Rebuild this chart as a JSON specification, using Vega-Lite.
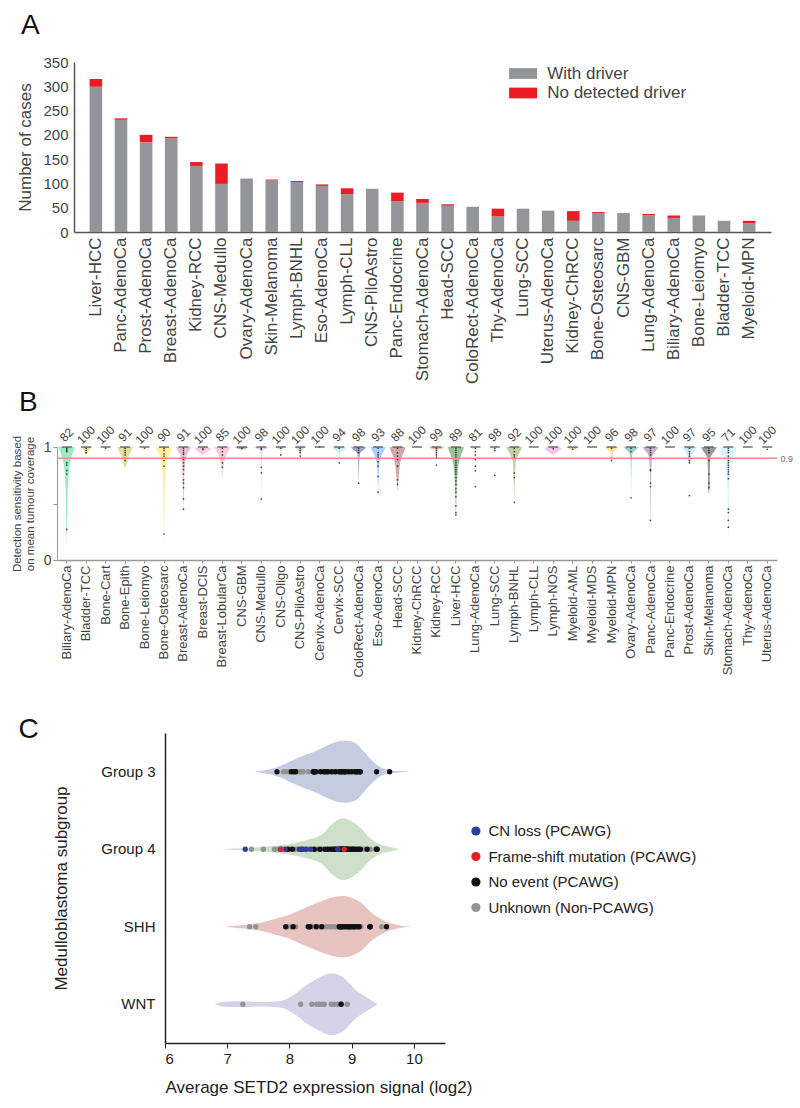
{
"$schema": "https://vega.github.io/schema/vega-lite/v6.json",
"padding": {"left": 11, "top": 11, "right": 5, "bottom": 5},
"config": {"view": {"stroke": null}, "font": "Liberation Sans", "axis": {"grid": false, "titleFontWeight": "normal", "labelFont": "Liberation Sans", "titleFont": "Liberation Sans"}, "legend": {"labelFont": "Liberation Sans", "labelLimit": 400}, "title": {"font": "Liberation Sans"}},
"datasets": {
"a": [
{"t":"Liver-HCC","s":"With driver","n":299},{"t":"Liver-HCC","s":"No detected driver","n":16},
{"t":"Panc-AdenoCa","s":"With driver","n":231},{"t":"Panc-AdenoCa","s":"No detected driver","n":3},
{"t":"Prost-AdenoCa","s":"With driver","n":185},{"t":"Prost-AdenoCa","s":"No detected driver","n":15},
{"t":"Breast-AdenoCa","s":"With driver","n":193},{"t":"Breast-AdenoCa","s":"No detected driver","n":3},
{"t":"Kidney-RCC","s":"With driver","n":136},{"t":"Kidney-RCC","s":"No detected driver","n":8},
{"t":"CNS-Medullo","s":"With driver","n":99},{"t":"CNS-Medullo","s":"No detected driver","n":42},
{"t":"Ovary-AdenoCa","s":"With driver","n":110},{"t":"Ovary-AdenoCa","s":"No detected driver","n":0},
{"t":"Skin-Melanoma","s":"With driver","n":106},{"t":"Skin-Melanoma","s":"No detected driver","n":2},
{"t":"Lymph-BNHL","s":"With driver","n":103},{"t":"Lymph-BNHL","s":"No detected driver","n":2},
{"t":"Eso-AdenoCa","s":"With driver","n":95},{"t":"Eso-AdenoCa","s":"No detected driver","n":3},
{"t":"Lymph-CLL","s":"With driver","n":78},{"t":"Lymph-CLL","s":"No detected driver","n":12},
{"t":"CNS-PiloAstro","s":"With driver","n":89},{"t":"CNS-PiloAstro","s":"No detected driver","n":0},
{"t":"Panc-Endocrine","s":"With driver","n":63},{"t":"Panc-Endocrine","s":"No detected driver","n":18},
{"t":"Stomach-AdenoCa","s":"With driver","n":60},{"t":"Stomach-AdenoCa","s":"No detected driver","n":8},
{"t":"Head-SCC","s":"With driver","n":54},{"t":"Head-SCC","s":"No detected driver","n":3},
{"t":"ColoRect-AdenoCa","s":"With driver","n":52},{"t":"ColoRect-AdenoCa","s":"No detected driver","n":0},
{"t":"Thy-AdenoCa","s":"With driver","n":32},{"t":"Thy-AdenoCa","s":"No detected driver","n":16},
{"t":"Lung-SCC","s":"With driver","n":48},{"t":"Lung-SCC","s":"No detected driver","n":0},
{"t":"Uterus-AdenoCa","s":"With driver","n":44},{"t":"Uterus-AdenoCa","s":"No detected driver","n":0},
{"t":"Kidney-ChRCC","s":"With driver","n":23},{"t":"Kidney-ChRCC","s":"No detected driver","n":20},
{"t":"Bone-Osteosarc","s":"With driver","n":38},{"t":"Bone-Osteosarc","s":"No detected driver","n":3},
{"t":"CNS-GBM","s":"With driver","n":39},{"t":"CNS-GBM","s":"No detected driver","n":0},
{"t":"Lung-AdenoCa","s":"With driver","n":35},{"t":"Lung-AdenoCa","s":"No detected driver","n":2},
{"t":"Biliary-AdenoCa","s":"With driver","n":29},{"t":"Biliary-AdenoCa","s":"No detected driver","n":5},
{"t":"Bone-Leiomyo","s":"With driver","n":34},{"t":"Bone-Leiomyo","s":"No detected driver","n":0},
{"t":"Bladder-TCC","s":"With driver","n":23},{"t":"Bladder-TCC","s":"No detected driver","n":0},
{"t":"Myeloid-MPN","s":"With driver","n":18},{"t":"Myeloid-MPN","s":"No detected driver","n":5}
],
"cats": [
{"c":"Biliary-AdenoCa","i":0,"p":82},{"c":"Bladder-TCC","i":1,"p":100},{"c":"Bone-Cart","i":2,"p":100},{"c":"Bone-Epith","i":3,"p":91},{"c":"Bone-Leiomyo","i":4,"p":100},{"c":"Bone-Osteosarc","i":5,"p":90},{"c":"Breast-AdenoCa","i":6,"p":91},{"c":"Breast-DCIS","i":7,"p":100},{"c":"Breast-LobularCa","i":8,"p":85},{"c":"CNS-GBM","i":9,"p":100},{"c":"CNS-Medullo","i":10,"p":98},{"c":"CNS-Oligo","i":11,"p":100},{"c":"CNS-PiloAstro","i":12,"p":100},{"c":"Cervix-AdenoCa","i":13,"p":100},{"c":"Cervix-SCC","i":14,"p":94},{"c":"ColoRect-AdenoCa","i":15,"p":98},{"c":"Eso-AdenoCa","i":16,"p":93},{"c":"Head-SCC","i":17,"p":88},{"c":"Kidney-ChRCC","i":18,"p":100},{"c":"Kidney-RCC","i":19,"p":99},{"c":"Liver-HCC","i":20,"p":89},{"c":"Lung-AdenoCa","i":21,"p":81},{"c":"Lung-SCC","i":22,"p":98},{"c":"Lymph-BNHL","i":23,"p":92},{"c":"Lymph-CLL","i":24,"p":100},{"c":"Lymph-NOS","i":25,"p":100},{"c":"Myeloid-AML","i":26,"p":100},{"c":"Myeloid-MDS","i":27,"p":100},{"c":"Myeloid-MPN","i":28,"p":96},{"c":"Ovary-AdenoCa","i":29,"p":98},{"c":"Panc-AdenoCa","i":30,"p":97},{"c":"Panc-Endocrine","i":31,"p":100},{"c":"Prost-AdenoCa","i":32,"p":97},{"c":"Skin-Melanoma","i":33,"p":95},{"c":"Stomach-AdenoCa","i":34,"p":71},{"c":"Thy-AdenoCa","i":35,"p":100},{"c":"Uterus-AdenoCa","i":36,"p":100}
],
"thr": [{"t": 0.9}],
"bs": [
{"c":"Biliary-AdenoCa","v":1,"w":8},{"c":"Biliary-AdenoCa","v":0.98,"w":7.5},{"c":"Biliary-AdenoCa","v":0.95,"w":6},{"c":"Biliary-AdenoCa","v":0.9,"w":4.3},{"c":"Biliary-AdenoCa","v":0.85,"w":3},{"c":"Biliary-AdenoCa","v":0.77,"w":2},{"c":"Biliary-AdenoCa","v":0.6,"w":1},{"c":"Biliary-AdenoCa","v":0.4,"w":0.6},{"c":"Biliary-AdenoCa","v":0.12,"w":0},
{"c":"Bladder-TCC","v":1,"w":5.5},{"c":"Bladder-TCC","v":0.97,"w":3},{"c":"Bladder-TCC","v":0.93,"w":0.5},{"c":"Bladder-TCC","v":0.92,"w":0},
{"c":"Bone-Epith","v":1,"w":7.8},{"c":"Bone-Epith","v":0.97,"w":6.5},{"c":"Bone-Epith","v":0.94,"w":4.5},{"c":"Bone-Epith","v":0.9,"w":3},{"c":"Bone-Epith","v":0.86,"w":1.8},{"c":"Bone-Epith","v":0.82,"w":0.5},{"c":"Bone-Epith","v":0.81,"w":0},
{"c":"Bone-Osteosarc","v":1,"w":7.8},{"c":"Bone-Osteosarc","v":0.97,"w":7},{"c":"Bone-Osteosarc","v":0.94,"w":5.5},{"c":"Bone-Osteosarc","v":0.9,"w":3.8},{"c":"Bone-Osteosarc","v":0.85,"w":2.5},{"c":"Bone-Osteosarc","v":0.77,"w":1.3},{"c":"Bone-Osteosarc","v":0.6,"w":0.7},{"c":"Bone-Osteosarc","v":0.35,"w":0.4},{"c":"Bone-Osteosarc","v":0.1,"w":0},
{"c":"Breast-AdenoCa","v":1,"w":7.7},{"c":"Breast-AdenoCa","v":0.97,"w":6},{"c":"Breast-AdenoCa","v":0.94,"w":4},{"c":"Breast-AdenoCa","v":0.9,"w":2.7},{"c":"Breast-AdenoCa","v":0.85,"w":1.6},{"c":"Breast-AdenoCa","v":0.75,"w":0.8},{"c":"Breast-AdenoCa","v":0.6,"w":0.5},{"c":"Breast-AdenoCa","v":0.42,"w":0},
{"c":"Breast-DCIS","v":1,"w":5},{"c":"Breast-DCIS","v":0.985,"w":8},{"c":"Breast-DCIS","v":0.96,"w":5},{"c":"Breast-DCIS","v":0.94,"w":1.5},{"c":"Breast-DCIS","v":0.93,"w":0},
{"c":"Breast-LobularCa","v":1,"w":8.2},{"c":"Breast-LobularCa","v":0.97,"w":6.5},{"c":"Breast-LobularCa","v":0.94,"w":4.5},{"c":"Breast-LobularCa","v":0.9,"w":2.8},{"c":"Breast-LobularCa","v":0.83,"w":1.2},{"c":"Breast-LobularCa","v":0.72,"w":0},
{"c":"CNS-GBM","v":1,"w":7},{"c":"CNS-GBM","v":0.985,"w":4},{"c":"CNS-GBM","v":0.975,"w":0},
{"c":"CNS-Medullo","v":1,"w":7.8},{"c":"CNS-Medullo","v":0.985,"w":5},{"c":"CNS-Medullo","v":0.975,"w":1.5},{"c":"CNS-Medullo","v":0.9,"w":0.4},{"c":"CNS-Medullo","v":0.75,"w":0.3},{"c":"CNS-Medullo","v":0.52,"w":0},
{"c":"CNS-Oligo","v":1,"w":7.5},{"c":"CNS-Oligo","v":0.985,"w":3},{"c":"CNS-Oligo","v":0.97,"w":0.5},{"c":"CNS-Oligo","v":0.92,"w":0},
{"c":"CNS-PiloAstro","v":1,"w":6},{"c":"CNS-PiloAstro","v":0.98,"w":3},{"c":"CNS-PiloAstro","v":0.96,"w":1},{"c":"CNS-PiloAstro","v":0.92,"w":0},
{"c":"Cervix-SCC","v":1,"w":7.8},{"c":"Cervix-SCC","v":0.985,"w":6},{"c":"Cervix-SCC","v":0.965,"w":2},{"c":"Cervix-SCC","v":0.93,"w":0.5},{"c":"Cervix-SCC","v":0.82,"w":0},
{"c":"ColoRect-AdenoCa","v":1,"w":7.7},{"c":"ColoRect-AdenoCa","v":0.98,"w":6},{"c":"ColoRect-AdenoCa","v":0.96,"w":3},{"c":"ColoRect-AdenoCa","v":0.93,"w":1},{"c":"ColoRect-AdenoCa","v":0.85,"w":0.5},{"c":"ColoRect-AdenoCa","v":0.63,"w":0},
{"c":"Eso-AdenoCa","v":1,"w":7.8},{"c":"Eso-AdenoCa","v":0.97,"w":6},{"c":"Eso-AdenoCa","v":0.94,"w":4},{"c":"Eso-AdenoCa","v":0.9,"w":2.5},{"c":"Eso-AdenoCa","v":0.85,"w":1.2},{"c":"Eso-AdenoCa","v":0.75,"w":0.6},{"c":"Eso-AdenoCa","v":0.56,"w":0},
{"c":"Head-SCC","v":1,"w":7.8},{"c":"Head-SCC","v":0.97,"w":7},{"c":"Head-SCC","v":0.94,"w":5.5},{"c":"Head-SCC","v":0.9,"w":3.8},{"c":"Head-SCC","v":0.85,"w":2.5},{"c":"Head-SCC","v":0.75,"w":1.3},{"c":"Head-SCC","v":0.6,"w":0},
{"c":"Kidney-RCC","v":1,"w":7.8},{"c":"Kidney-RCC","v":0.985,"w":5},{"c":"Kidney-RCC","v":0.975,"w":1},{"c":"Kidney-RCC","v":0.95,"w":0.3},{"c":"Kidney-RCC","v":0.88,"w":0},
{"c":"Liver-HCC","v":1,"w":7.8},{"c":"Liver-HCC","v":0.97,"w":7},{"c":"Liver-HCC","v":0.94,"w":5.5},{"c":"Liver-HCC","v":0.9,"w":4.2},{"c":"Liver-HCC","v":0.85,"w":2.7},{"c":"Liver-HCC","v":0.78,"w":1.8},{"c":"Liver-HCC","v":0.65,"w":0.8},{"c":"Liver-HCC","v":0.5,"w":0.4},{"c":"Liver-HCC","v":0.35,"w":0},
{"c":"Lung-AdenoCa","v":1,"w":7},{"c":"Lung-AdenoCa","v":0.95,"w":2},{"c":"Lung-AdenoCa","v":0.7,"w":0.3},{"c":"Lung-AdenoCa","v":0.64,"w":0},
{"c":"Lung-SCC","v":1,"w":5},{"c":"Lung-SCC","v":0.985,"w":3},{"c":"Lung-SCC","v":0.97,"w":0.5},{"c":"Lung-SCC","v":0.75,"w":0},
{"c":"Lymph-BNHL","v":1,"w":7.8},{"c":"Lymph-BNHL","v":0.97,"w":6.5},{"c":"Lymph-BNHL","v":0.94,"w":4.5},{"c":"Lymph-BNHL","v":0.9,"w":2.5},{"c":"Lymph-BNHL","v":0.85,"w":1.2},{"c":"Lymph-BNHL","v":0.7,"w":0.6},{"c":"Lymph-BNHL","v":0.5,"w":0},
{"c":"Lymph-NOS","v":1,"w":6},{"c":"Lymph-NOS","v":0.985,"w":8},{"c":"Lymph-NOS","v":0.96,"w":5},{"c":"Lymph-NOS","v":0.94,"w":2},{"c":"Lymph-NOS","v":0.93,"w":0},
{"c":"Myeloid-AML","v":1,"w":7.5},{"c":"Myeloid-AML","v":0.985,"w":3},{"c":"Myeloid-AML","v":0.975,"w":0},
{"c":"Myeloid-MPN","v":1,"w":7.8},{"c":"Myeloid-MPN","v":0.985,"w":5.5},{"c":"Myeloid-MPN","v":0.965,"w":2.5},{"c":"Myeloid-MPN","v":0.93,"w":1},{"c":"Myeloid-MPN","v":0.86,"w":0},
{"c":"Ovary-AdenoCa","v":1,"w":7.8},{"c":"Ovary-AdenoCa","v":0.98,"w":5.5},{"c":"Ovary-AdenoCa","v":0.96,"w":3},{"c":"Ovary-AdenoCa","v":0.93,"w":1},{"c":"Ovary-AdenoCa","v":0.85,"w":0.4},{"c":"Ovary-AdenoCa","v":0.53,"w":0},
{"c":"Panc-AdenoCa","v":1,"w":7.7},{"c":"Panc-AdenoCa","v":0.98,"w":6.5},{"c":"Panc-AdenoCa","v":0.95,"w":3.5},{"c":"Panc-AdenoCa","v":0.92,"w":1.8},{"c":"Panc-AdenoCa","v":0.85,"w":1},{"c":"Panc-AdenoCa","v":0.7,"w":0.5},{"c":"Panc-AdenoCa","v":0.5,"w":0.3},{"c":"Panc-AdenoCa","v":0.3,"w":0},
{"c":"Prost-AdenoCa","v":1,"w":7.8},{"c":"Prost-AdenoCa","v":0.98,"w":6},{"c":"Prost-AdenoCa","v":0.95,"w":3.5},{"c":"Prost-AdenoCa","v":0.92,"w":2},{"c":"Prost-AdenoCa","v":0.88,"w":1},{"c":"Prost-AdenoCa","v":0.84,"w":0},
{"c":"Skin-Melanoma","v":1,"w":7.8},{"c":"Skin-Melanoma","v":0.97,"w":6},{"c":"Skin-Melanoma","v":0.94,"w":3.5},{"c":"Skin-Melanoma","v":0.9,"w":1.5},{"c":"Skin-Melanoma","v":0.8,"w":1},{"c":"Skin-Melanoma","v":0.65,"w":0.8},{"c":"Skin-Melanoma","v":0.58,"w":0},
{"c":"Stomach-AdenoCa","v":1,"w":8},{"c":"Stomach-AdenoCa","v":0.96,"w":7.5},{"c":"Stomach-AdenoCa","v":0.92,"w":6},{"c":"Stomach-AdenoCa","v":0.88,"w":4},{"c":"Stomach-AdenoCa","v":0.82,"w":2.5},{"c":"Stomach-AdenoCa","v":0.72,"w":1.5},{"c":"Stomach-AdenoCa","v":0.55,"w":0.8},{"c":"Stomach-AdenoCa","v":0.35,"w":0.5},{"c":"Stomach-AdenoCa","v":0.18,"w":0}
],
"bd": [
{"c":"Biliary-AdenoCa","v":0.99},{"c":"Biliary-AdenoCa","v":0.98},{"c":"Biliary-AdenoCa","v":0.97},{"c":"Biliary-AdenoCa","v":0.96},{"c":"Biliary-AdenoCa","v":0.86},{"c":"Biliary-AdenoCa","v":0.84},{"c":"Biliary-AdenoCa","v":0.79},{"c":"Biliary-AdenoCa","v":0.76},{"c":"Biliary-AdenoCa","v":0.27},
{"c":"Bladder-TCC","v":0.99},{"c":"Bladder-TCC","v":0.97},{"c":"Bladder-TCC","v":0.95},
{"c":"Bone-Cart","v":0.99},
{"c":"Bone-Epith","v":0.99},{"c":"Bone-Epith","v":0.97},{"c":"Bone-Epith","v":0.95},{"c":"Bone-Epith","v":0.93},{"c":"Bone-Epith","v":0.9},{"c":"Bone-Epith","v":0.88},
{"c":"Bone-Leiomyo","v":0.99},
{"c":"Bone-Osteosarc","v":0.99},{"c":"Bone-Osteosarc","v":0.97},{"c":"Bone-Osteosarc","v":0.94},{"c":"Bone-Osteosarc","v":0.92},{"c":"Bone-Osteosarc","v":0.88},{"c":"Bone-Osteosarc","v":0.83},{"c":"Bone-Osteosarc","v":0.23},
{"c":"Breast-AdenoCa","v":0.99},{"c":"Breast-AdenoCa","v":0.97},{"c":"Breast-AdenoCa","v":0.95},{"c":"Breast-AdenoCa","v":0.935},{"c":"Breast-AdenoCa","v":0.906},{"c":"Breast-AdenoCa","v":0.89},{"c":"Breast-AdenoCa","v":0.86},{"c":"Breast-AdenoCa","v":0.83},{"c":"Breast-AdenoCa","v":0.8},{"c":"Breast-AdenoCa","v":0.76},{"c":"Breast-AdenoCa","v":0.71},{"c":"Breast-AdenoCa","v":0.68},{"c":"Breast-AdenoCa","v":0.64},{"c":"Breast-AdenoCa","v":0.54},{"c":"Breast-AdenoCa","v":0.45},
{"c":"Breast-DCIS","v":0.985},{"c":"Breast-DCIS","v":0.98},
{"c":"Breast-LobularCa","v":0.99},{"c":"Breast-LobularCa","v":0.96},{"c":"Breast-LobularCa","v":0.93},{"c":"Breast-LobularCa","v":0.9},{"c":"Breast-LobularCa","v":0.86},{"c":"Breast-LobularCa","v":0.82},
{"c":"CNS-GBM","v":0.99},
{"c":"CNS-Medullo","v":0.99},{"c":"CNS-Medullo","v":0.98},{"c":"CNS-Medullo","v":0.82},{"c":"CNS-Medullo","v":0.77},{"c":"CNS-Medullo","v":0.54},
{"c":"CNS-Oligo","v":0.99},{"c":"CNS-Oligo","v":0.93},
{"c":"CNS-PiloAstro","v":0.99},{"c":"CNS-PiloAstro","v":0.97},{"c":"CNS-PiloAstro","v":0.95},{"c":"CNS-PiloAstro","v":0.92},
{"c":"Cervix-AdenoCa","v":1},
{"c":"Cervix-SCC","v":0.99},{"c":"Cervix-SCC","v":0.86},
{"c":"ColoRect-AdenoCa","v":0.99},{"c":"ColoRect-AdenoCa","v":0.97},{"c":"ColoRect-AdenoCa","v":0.95},{"c":"ColoRect-AdenoCa","v":0.68},
{"c":"Eso-AdenoCa","v":0.99},{"c":"Eso-AdenoCa","v":0.95},{"c":"Eso-AdenoCa","v":0.93},{"c":"Eso-AdenoCa","v":0.91},{"c":"Eso-AdenoCa","v":0.9},{"c":"Eso-AdenoCa","v":0.87},{"c":"Eso-AdenoCa","v":0.83},{"c":"Eso-AdenoCa","v":0.74},{"c":"Eso-AdenoCa","v":0.6},
{"c":"Head-SCC","v":0.99},{"c":"Head-SCC","v":0.95},{"c":"Head-SCC","v":0.92},{"c":"Head-SCC","v":0.89},{"c":"Head-SCC","v":0.83},{"c":"Head-SCC","v":0.71},{"c":"Head-SCC","v":0.67},
{"c":"Kidney-RCC","v":0.99},{"c":"Kidney-RCC","v":0.97},{"c":"Kidney-RCC","v":0.95},{"c":"Kidney-RCC","v":0.93},{"c":"Kidney-RCC","v":0.91},{"c":"Kidney-RCC","v":0.84},
{"c":"Liver-HCC","v":0.99},{"c":"Liver-HCC","v":0.97},{"c":"Liver-HCC","v":0.95},{"c":"Liver-HCC","v":0.93},{"c":"Liver-HCC","v":0.91},{"c":"Liver-HCC","v":0.9},{"c":"Liver-HCC","v":0.88},{"c":"Liver-HCC","v":0.86},{"c":"Liver-HCC","v":0.84},{"c":"Liver-HCC","v":0.82},{"c":"Liver-HCC","v":0.8},{"c":"Liver-HCC","v":0.78},{"c":"Liver-HCC","v":0.76},{"c":"Liver-HCC","v":0.73},{"c":"Liver-HCC","v":0.7},{"c":"Liver-HCC","v":0.67},{"c":"Liver-HCC","v":0.63},{"c":"Liver-HCC","v":0.6},{"c":"Liver-HCC","v":0.56},{"c":"Liver-HCC","v":0.48},{"c":"Liver-HCC","v":0.42},{"c":"Liver-HCC","v":0.4},
{"c":"Lung-AdenoCa","v":0.99},{"c":"Lung-AdenoCa","v":0.96},{"c":"Lung-AdenoCa","v":0.93},{"c":"Lung-AdenoCa","v":0.89},{"c":"Lung-AdenoCa","v":0.83},{"c":"Lung-AdenoCa","v":0.79},{"c":"Lung-AdenoCa","v":0.65},
{"c":"Lung-SCC","v":0.99},{"c":"Lung-SCC","v":0.97},{"c":"Lung-SCC","v":0.75},
{"c":"Lymph-BNHL","v":0.99},{"c":"Lymph-BNHL","v":0.96},{"c":"Lymph-BNHL","v":0.93},{"c":"Lymph-BNHL","v":0.91},{"c":"Lymph-BNHL","v":0.77},{"c":"Lymph-BNHL","v":0.73},{"c":"Lymph-BNHL","v":0.51},
{"c":"Lymph-NOS","v":0.985},
{"c":"Myeloid-AML","v":0.98},
{"c":"Myeloid-MPN","v":0.99},{"c":"Myeloid-MPN","v":0.9},{"c":"Myeloid-MPN","v":0.88},
{"c":"Ovary-AdenoCa","v":0.99},{"c":"Ovary-AdenoCa","v":0.96},{"c":"Ovary-AdenoCa","v":0.9},{"c":"Ovary-AdenoCa","v":0.55},
{"c":"Panc-AdenoCa","v":0.99},{"c":"Panc-AdenoCa","v":0.97},{"c":"Panc-AdenoCa","v":0.95},{"c":"Panc-AdenoCa","v":0.93},{"c":"Panc-AdenoCa","v":0.9},{"c":"Panc-AdenoCa","v":0.8},{"c":"Panc-AdenoCa","v":0.79},{"c":"Panc-AdenoCa","v":0.68},{"c":"Panc-AdenoCa","v":0.65},{"c":"Panc-AdenoCa","v":0.35},
{"c":"Prost-AdenoCa","v":0.99},{"c":"Prost-AdenoCa","v":0.96},{"c":"Prost-AdenoCa","v":0.94},{"c":"Prost-AdenoCa","v":0.92},{"c":"Prost-AdenoCa","v":0.9},{"c":"Prost-AdenoCa","v":0.88},{"c":"Prost-AdenoCa","v":0.86},{"c":"Prost-AdenoCa","v":0.57},
{"c":"Skin-Melanoma","v":0.99},{"c":"Skin-Melanoma","v":0.97},{"c":"Skin-Melanoma","v":0.95},{"c":"Skin-Melanoma","v":0.88},{"c":"Skin-Melanoma","v":0.76},{"c":"Skin-Melanoma","v":0.68},{"c":"Skin-Melanoma","v":0.64},
{"c":"Stomach-AdenoCa","v":0.99},{"c":"Stomach-AdenoCa","v":0.97},{"c":"Stomach-AdenoCa","v":0.95},{"c":"Stomach-AdenoCa","v":0.92},{"c":"Stomach-AdenoCa","v":0.9},{"c":"Stomach-AdenoCa","v":0.88},{"c":"Stomach-AdenoCa","v":0.86},{"c":"Stomach-AdenoCa","v":0.84},{"c":"Stomach-AdenoCa","v":0.82},{"c":"Stomach-AdenoCa","v":0.8},{"c":"Stomach-AdenoCa","v":0.78},{"c":"Stomach-AdenoCa","v":0.76},{"c":"Stomach-AdenoCa","v":0.72},{"c":"Stomach-AdenoCa","v":0.45},{"c":"Stomach-AdenoCa","v":0.42},{"c":"Stomach-AdenoCa","v":0.35},{"c":"Stomach-AdenoCa","v":0.29},
{"c":"Uterus-AdenoCa","v":0.98}
],
"grp": [{"g":"Group 3","gi":0},{"g":"Group 4","gi":1},{"g":"SHH","gi":2},{"g":"WNT","gi":3}],
"cs": [
{"g":"Group 3","v":7.44,"h":0},{"g":"Group 3","v":7.6,"h":1.5},{"g":"Group 3","v":7.8,"h":4.5},{"g":"Group 3","v":8.0,"h":10},{"g":"Group 3","v":8.2,"h":15.5},{"g":"Group 3","v":8.4,"h":20},{"g":"Group 3","v":8.6,"h":26},{"g":"Group 3","v":8.8,"h":30.5},{"g":"Group 3","v":8.9,"h":31},{"g":"Group 3","v":9.05,"h":29},{"g":"Group 3","v":9.2,"h":20},{"g":"Group 3","v":9.3,"h":13},{"g":"Group 3","v":9.45,"h":5},{"g":"Group 3","v":9.6,"h":1.8},{"g":"Group 3","v":9.8,"h":0.5},{"g":"Group 3","v":9.96,"h":0},
{"g":"Group 4","v":6.93,"h":0},{"g":"Group 4","v":7.1,"h":0.7},{"g":"Group 4","v":7.31,"h":1.2},{"g":"Group 4","v":7.6,"h":2.5},{"g":"Group 4","v":7.85,"h":4},{"g":"Group 4","v":8.1,"h":6.5},{"g":"Group 4","v":8.27,"h":9},{"g":"Group 4","v":8.54,"h":15.7},{"g":"Group 4","v":8.7,"h":26},{"g":"Group 4","v":8.86,"h":31},{"g":"Group 4","v":9.0,"h":28},{"g":"Group 4","v":9.13,"h":22},{"g":"Group 4","v":9.25,"h":14},{"g":"Group 4","v":9.34,"h":9},{"g":"Group 4","v":9.45,"h":5},{"g":"Group 4","v":9.56,"h":3},{"g":"Group 4","v":9.77,"h":0},
{"g":"SHH","v":6.96,"h":0},{"g":"SHH","v":7.2,"h":1.5},{"g":"SHH","v":7.42,"h":2.7},{"g":"SHH","v":7.6,"h":5},{"g":"SHH","v":7.79,"h":8.3},{"g":"SHH","v":8.0,"h":12},{"g":"SHH","v":8.17,"h":16.7},{"g":"SHH","v":8.49,"h":25},{"g":"SHH","v":8.7,"h":29.5},{"g":"SHH","v":8.86,"h":30.7},{"g":"SHH","v":9.0,"h":29},{"g":"SHH","v":9.13,"h":25},{"g":"SHH","v":9.34,"h":13},{"g":"SHH","v":9.56,"h":5},{"g":"SHH","v":9.75,"h":1.5},{"g":"SHH","v":9.96,"h":0},
{"g":"WNT","v":6.8,"h":0},{"g":"WNT","v":6.95,"h":2.5},{"g":"WNT","v":7.25,"h":3},{"g":"WNT","v":7.5,"h":2.2},{"g":"WNT","v":7.7,"h":2.5},{"g":"WNT","v":7.9,"h":4},{"g":"WNT","v":8.06,"h":9},{"g":"WNT","v":8.27,"h":19},{"g":"WNT","v":8.49,"h":27},{"g":"WNT","v":8.67,"h":31},{"g":"WNT","v":8.86,"h":27},{"g":"WNT","v":9.07,"h":14},{"g":"WNT","v":9.29,"h":5},{"g":"WNT","v":9.39,"h":1},{"g":"WNT","v":9.42,"h":0}
],
"cd": [
{"g":"Group 3","v":7.90,"s":"Unknown (Non-PCAWG)"},{"g":"Group 3","v":7.95,"s":"Unknown (Non-PCAWG)"},{"g":"Group 3","v":8.00,"s":"Unknown (Non-PCAWG)"},{"g":"Group 3","v":8.13,"s":"Unknown (Non-PCAWG)"},{"g":"Group 3","v":8.18,"s":"Unknown (Non-PCAWG)"},{"g":"Group 3","v":8.22,"s":"Unknown (Non-PCAWG)"},{"g":"Group 3","v":8.30,"s":"Unknown (Non-PCAWG)"},{"g":"Group 3","v":8.45,"s":"Unknown (Non-PCAWG)"},{"g":"Group 3","v":8.60,"s":"Unknown (Non-PCAWG)"},{"g":"Group 3","v":8.65,"s":"Unknown (Non-PCAWG)"},{"g":"Group 3","v":8.70,"s":"Unknown (Non-PCAWG)"},{"g":"Group 3","v":8.72,"s":"Unknown (Non-PCAWG)"},{"g":"Group 3","v":8.78,"s":"Unknown (Non-PCAWG)"},{"g":"Group 3","v":8.82,"s":"Unknown (Non-PCAWG)"},{"g":"Group 3","v":8.87,"s":"Unknown (Non-PCAWG)"},{"g":"Group 3","v":8.92,"s":"Unknown (Non-PCAWG)"},{"g":"Group 3","v":8.97,"s":"Unknown (Non-PCAWG)"},{"g":"Group 3","v":9.02,"s":"Unknown (Non-PCAWG)"},{"g":"Group 3","v":9.07,"s":"Unknown (Non-PCAWG)"},
{"g":"Group 4","v":7.39,"s":"Unknown (Non-PCAWG)"},{"g":"Group 4","v":7.58,"s":"Unknown (Non-PCAWG)"},{"g":"Group 4","v":7.76,"s":"Unknown (Non-PCAWG)"},{"g":"Group 4","v":7.83,"s":"Unknown (Non-PCAWG)"},{"g":"Group 4","v":7.96,"s":"Unknown (Non-PCAWG)"},{"g":"Group 4","v":8.02,"s":"Unknown (Non-PCAWG)"},{"g":"Group 4","v":8.10,"s":"Unknown (Non-PCAWG)"},{"g":"Group 4","v":8.13,"s":"Unknown (Non-PCAWG)"},{"g":"Group 4","v":8.25,"s":"Unknown (Non-PCAWG)"},{"g":"Group 4","v":8.30,"s":"Unknown (Non-PCAWG)"},{"g":"Group 4","v":8.37,"s":"Unknown (Non-PCAWG)"},{"g":"Group 4","v":8.45,"s":"Unknown (Non-PCAWG)"},{"g":"Group 4","v":8.52,"s":"Unknown (Non-PCAWG)"},{"g":"Group 4","v":8.60,"s":"Unknown (Non-PCAWG)"},{"g":"Group 4","v":8.65,"s":"Unknown (Non-PCAWG)"},{"g":"Group 4","v":8.72,"s":"Unknown (Non-PCAWG)"},{"g":"Group 4","v":8.77,"s":"Unknown (Non-PCAWG)"},{"g":"Group 4","v":8.80,"s":"Unknown (Non-PCAWG)"},{"g":"Group 4","v":8.85,"s":"Unknown (Non-PCAWG)"},{"g":"Group 4","v":8.87,"s":"Unknown (Non-PCAWG)"},{"g":"Group 4","v":8.90,"s":"Unknown (Non-PCAWG)"},{"g":"Group 4","v":8.94,"s":"Unknown (Non-PCAWG)"},{"g":"Group 4","v":8.98,"s":"Unknown (Non-PCAWG)"},{"g":"Group 4","v":9.03,"s":"Unknown (Non-PCAWG)"},{"g":"Group 4","v":9.10,"s":"Unknown (Non-PCAWG)"},{"g":"Group 4","v":9.18,"s":"Unknown (Non-PCAWG)"},{"g":"Group 4","v":9.22,"s":"Unknown (Non-PCAWG)"},{"g":"Group 4","v":9.30,"s":"Unknown (Non-PCAWG)"},{"g":"Group 4","v":9.38,"s":"Unknown (Non-PCAWG)"},
{"g":"SHH","v":7.36,"s":"Unknown (Non-PCAWG)"},{"g":"SHH","v":7.46,"s":"Unknown (Non-PCAWG)"},{"g":"SHH","v":7.97,"s":"Unknown (Non-PCAWG)"},{"g":"SHH","v":8.03,"s":"Unknown (Non-PCAWG)"},{"g":"SHH","v":8.10,"s":"Unknown (Non-PCAWG)"},{"g":"SHH","v":8.38,"s":"Unknown (Non-PCAWG)"},{"g":"SHH","v":8.46,"s":"Unknown (Non-PCAWG)"},{"g":"SHH","v":8.50,"s":"Unknown (Non-PCAWG)"},{"g":"SHH","v":8.55,"s":"Unknown (Non-PCAWG)"},{"g":"SHH","v":8.60,"s":"Unknown (Non-PCAWG)"},{"g":"SHH","v":8.65,"s":"Unknown (Non-PCAWG)"},{"g":"SHH","v":8.68,"s":"Unknown (Non-PCAWG)"},{"g":"SHH","v":8.72,"s":"Unknown (Non-PCAWG)"},{"g":"SHH","v":8.75,"s":"Unknown (Non-PCAWG)"},{"g":"SHH","v":8.78,"s":"Unknown (Non-PCAWG)"},{"g":"SHH","v":8.83,"s":"Unknown (Non-PCAWG)"},{"g":"SHH","v":8.87,"s":"Unknown (Non-PCAWG)"},{"g":"SHH","v":8.90,"s":"Unknown (Non-PCAWG)"},{"g":"SHH","v":8.93,"s":"Unknown (Non-PCAWG)"},{"g":"SHH","v":8.98,"s":"Unknown (Non-PCAWG)"},{"g":"SHH","v":9.02,"s":"Unknown (Non-PCAWG)"},{"g":"SHH","v":9.05,"s":"Unknown (Non-PCAWG)"},{"g":"SHH","v":9.15,"s":"Unknown (Non-PCAWG)"},{"g":"SHH","v":9.30,"s":"Unknown (Non-PCAWG)"},{"g":"SHH","v":9.48,"s":"Unknown (Non-PCAWG)"},
{"g":"WNT","v":7.25,"s":"Unknown (Non-PCAWG)"},{"g":"WNT","v":8.18,"s":"Unknown (Non-PCAWG)"},{"g":"WNT","v":8.36,"s":"Unknown (Non-PCAWG)"},{"g":"WNT","v":8.44,"s":"Unknown (Non-PCAWG)"},{"g":"WNT","v":8.48,"s":"Unknown (Non-PCAWG)"},{"g":"WNT","v":8.52,"s":"Unknown (Non-PCAWG)"},{"g":"WNT","v":8.56,"s":"Unknown (Non-PCAWG)"},{"g":"WNT","v":8.67,"s":"Unknown (Non-PCAWG)"},{"g":"WNT","v":8.72,"s":"Unknown (Non-PCAWG)"},{"g":"WNT","v":8.78,"s":"Unknown (Non-PCAWG)"},{"g":"WNT","v":8.82,"s":"Unknown (Non-PCAWG)"},{"g":"WNT","v":8.84,"s":"Unknown (Non-PCAWG)"},{"g":"WNT","v":8.93,"s":"Unknown (Non-PCAWG)"},
{"g":"Group 3","v":7.80,"s":"No event (PCAWG)"},{"g":"Group 3","v":8.03,"s":"No event (PCAWG)"},{"g":"Group 3","v":8.07,"s":"No event (PCAWG)"},{"g":"Group 3","v":8.10,"s":"No event (PCAWG)"},{"g":"Group 3","v":8.38,"s":"No event (PCAWG)"},{"g":"Group 3","v":8.39,"s":"No event (PCAWG)"},{"g":"Group 3","v":8.40,"s":"No event (PCAWG)"},{"g":"Group 3","v":8.41,"s":"No event (PCAWG)"},{"g":"Group 3","v":8.42,"s":"No event (PCAWG)"},{"g":"Group 3","v":8.50,"s":"No event (PCAWG)"},{"g":"Group 3","v":8.55,"s":"No event (PCAWG)"},{"g":"Group 3","v":8.58,"s":"No event (PCAWG)"},{"g":"Group 3","v":8.62,"s":"No event (PCAWG)"},{"g":"Group 3","v":8.68,"s":"No event (PCAWG)"},{"g":"Group 3","v":8.74,"s":"No event (PCAWG)"},{"g":"Group 3","v":8.80,"s":"No event (PCAWG)"},{"g":"Group 3","v":8.83,"s":"No event (PCAWG)"},{"g":"Group 3","v":8.85,"s":"No event (PCAWG)"},{"g":"Group 3","v":8.88,"s":"No event (PCAWG)"},{"g":"Group 3","v":8.90,"s":"No event (PCAWG)"},{"g":"Group 3","v":8.95,"s":"No event (PCAWG)"},{"g":"Group 3","v":9.00,"s":"No event (PCAWG)"},{"g":"Group 3","v":9.05,"s":"No event (PCAWG)"},{"g":"Group 3","v":9.08,"s":"No event (PCAWG)"},{"g":"Group 3","v":9.10,"s":"No event (PCAWG)"},{"g":"Group 3","v":9.13,"s":"No event (PCAWG)"},{"g":"Group 3","v":9.14,"s":"No event (PCAWG)"},{"g":"Group 3","v":9.40,"s":"No event (PCAWG)"},{"g":"Group 3","v":9.61,"s":"No event (PCAWG)"},
{"g":"Group 4","v":7.98,"s":"No event (PCAWG)"},{"g":"Group 4","v":8.05,"s":"No event (PCAWG)"},{"g":"Group 4","v":8.19,"s":"No event (PCAWG)"},{"g":"Group 4","v":8.40,"s":"No event (PCAWG)"},{"g":"Group 4","v":8.49,"s":"No event (PCAWG)"},{"g":"Group 4","v":8.57,"s":"No event (PCAWG)"},{"g":"Group 4","v":8.62,"s":"No event (PCAWG)"},{"g":"Group 4","v":8.67,"s":"No event (PCAWG)"},{"g":"Group 4","v":8.70,"s":"No event (PCAWG)"},{"g":"Group 4","v":8.73,"s":"No event (PCAWG)"},{"g":"Group 4","v":8.75,"s":"No event (PCAWG)"},{"g":"Group 4","v":8.78,"s":"No event (PCAWG)"},{"g":"Group 4","v":8.80,"s":"No event (PCAWG)"},{"g":"Group 4","v":8.81,"s":"No event (PCAWG)"},{"g":"Group 4","v":8.82,"s":"No event (PCAWG)"},{"g":"Group 4","v":8.83,"s":"No event (PCAWG)"},{"g":"Group 4","v":8.84,"s":"No event (PCAWG)"},{"g":"Group 4","v":8.85,"s":"No event (PCAWG)"},{"g":"Group 4","v":8.86,"s":"No event (PCAWG)"},{"g":"Group 4","v":8.87,"s":"No event (PCAWG)"},{"g":"Group 4","v":8.88,"s":"No event (PCAWG)"},{"g":"Group 4","v":8.90,"s":"No event (PCAWG)"},{"g":"Group 4","v":8.91,"s":"No event (PCAWG)"},{"g":"Group 4","v":8.92,"s":"No event (PCAWG)"},{"g":"Group 4","v":8.93,"s":"No event (PCAWG)"},{"g":"Group 4","v":8.95,"s":"No event (PCAWG)"},{"g":"Group 4","v":8.97,"s":"No event (PCAWG)"},{"g":"Group 4","v":9.00,"s":"No event (PCAWG)"},{"g":"Group 4","v":9.02,"s":"No event (PCAWG)"},{"g":"Group 4","v":9.05,"s":"No event (PCAWG)"},{"g":"Group 4","v":9.08,"s":"No event (PCAWG)"},{"g":"Group 4","v":9.12,"s":"No event (PCAWG)"},{"g":"Group 4","v":9.14,"s":"No event (PCAWG)"},{"g":"Group 4","v":9.25,"s":"No event (PCAWG)"},{"g":"Group 4","v":9.40,"s":"No event (PCAWG)"},{"g":"Group 4","v":9.41,"s":"No event (PCAWG)"},
{"g":"SHH","v":7.94,"s":"No event (PCAWG)"},{"g":"SHH","v":8.06,"s":"No event (PCAWG)"},{"g":"SHH","v":8.30,"s":"No event (PCAWG)"},{"g":"SHH","v":8.32,"s":"No event (PCAWG)"},{"g":"SHH","v":8.33,"s":"No event (PCAWG)"},{"g":"SHH","v":8.43,"s":"No event (PCAWG)"},{"g":"SHH","v":8.52,"s":"No event (PCAWG)"},{"g":"SHH","v":8.80,"s":"No event (PCAWG)"},{"g":"SHH","v":8.81,"s":"No event (PCAWG)"},{"g":"SHH","v":8.83,"s":"No event (PCAWG)"},{"g":"SHH","v":8.85,"s":"No event (PCAWG)"},{"g":"SHH","v":8.88,"s":"No event (PCAWG)"},{"g":"SHH","v":8.92,"s":"No event (PCAWG)"},{"g":"SHH","v":8.95,"s":"No event (PCAWG)"},{"g":"SHH","v":8.97,"s":"No event (PCAWG)"},{"g":"SHH","v":9.00,"s":"No event (PCAWG)"},{"g":"SHH","v":9.03,"s":"No event (PCAWG)"},{"g":"SHH","v":9.06,"s":"No event (PCAWG)"},{"g":"SHH","v":9.10,"s":"No event (PCAWG)"},{"g":"SHH","v":9.12,"s":"No event (PCAWG)"},{"g":"SHH","v":9.29,"s":"No event (PCAWG)"},{"g":"SHH","v":9.30,"s":"No event (PCAWG)"},{"g":"SHH","v":9.56,"s":"No event (PCAWG)"},
{"g":"WNT","v":8.83,"s":"No event (PCAWG)"},
{"g":"Group 4","v":7.29,"s":"CN loss (PCAWG)"},{"g":"Group 4","v":7.86,"s":"CN loss (PCAWG)"},{"g":"Group 4","v":7.93,"s":"CN loss (PCAWG)"},{"g":"Group 4","v":8.16,"s":"CN loss (PCAWG)"},{"g":"Group 4","v":8.22,"s":"CN loss (PCAWG)"},{"g":"Group 4","v":8.27,"s":"CN loss (PCAWG)"},{"g":"Group 4","v":8.34,"s":"CN loss (PCAWG)"},{"g":"Group 4","v":8.78,"s":"CN loss (PCAWG)"},
{"g":"Group 4","v":7.87,"s":"Frame-shift mutation (PCAWG)"},{"g":"Group 4","v":8.88,"s":"Frame-shift mutation (PCAWG)"}
]
},
"spacing": 38,
"resolve": {"scale": {"color": "independent", "fill": "independent"}, "legend": {"color": "independent"}},
"vconcat": [
{
"spacing": 4,
"resolve": {"scale": {"color": "independent", "fill": "independent"}},
"vconcat": [
{
"width": 716, "height": 170,
"title": {"text": "A", "anchor": "start", "frame": "group", "dx": -36, "offset": -6.5, "baseline": "alphabetic", "fontSize": 28, "fontWeight": "normal", "color": "#111"},
"data": {"name": "a"},
"transform": [{"calculate": "datum.s === 'With driver' ? 0 : 1", "as": "k"}],
"mark": {"type": "bar"},
"encoding": {
"x": {"field": "t", "type": "nominal", "sort": null, "scale": {"paddingInner": 0.5, "paddingOuter": 0.62, "range": [17, 714]}, "axis": {"title": null, "labelAngle": -90, "labelFontSize": 17, "labelColor": "#444", "ticks": false, "labelPadding": 5, "domainColor": "#555", "domainWidth": 1.5}},
"y": {"field": "n", "type": "quantitative", "stack": "zero", "scale": {"domain": [0, 350], "nice": false}, "axis": {"offset": -17, "values": [0, 50, 100, 150, 200, 250, 300, 350], "title": "Number of cases", "titleFontSize": 17, "titleColor": "#444", "titlePadding": 8, "labelFontSize": 15, "labelColor": "#444", "ticks": false, "labelPadding": 6, "domainColor": "#555", "domainWidth": 1.5}},
"color": {"field": "s", "type": "nominal", "scale": {"domain": ["With driver", "No detected driver"], "range": ["#939598", "#ED1C24"]}, "legend": {"title": null, "orient": "none", "legendX": 457.6, "legendY": 3, "symbolType": "M-2.6,-1H2.6V1H-2.6Z", "symbolSize": 116, "symbolStrokeWidth": 0, "labelFontSize": 17, "labelColor": "#444", "labelOffset": 15.6, "rowPadding": 1.5}},
"order": {"field": "k", "type": "quantitative"}
}
},
{
"width": 720, "height": 113,
"title": {"text": "B", "anchor": "start", "frame": "group", "dx": -38, "offset": -15, "baseline": "alphabetic", "fontSize": 28, "fontWeight": "normal", "color": "#111"},
"resolve": {"scale": {"x": "independent", "y": "independent"}},
"layer": [
{
"data": {"name": "bs"},
"transform": [
{"lookup": "c", "from": {"data": {"name": "cats"}, "key": "c", "fields": ["i"]}},
{"calculate": "datum.i - datum.w / 19.46", "as": "lo"},
{"calculate": "datum.i + datum.w / 19.46", "as": "hi"}
],
"mark": {"type": "area", "orient": "horizontal", "fillOpacity": 0.4, "interpolate": "monotone"},
"encoding": {
"y": {"field": "v", "type": "quantitative", "scale": {"domain": [0, 1], "nice": false}, "axis": null},
"x": {"field": "lo", "type": "quantitative", "scale": {"domain": [-0.5, 36.5], "nice": false, "zero": false}, "axis": null},
"x2": {"field": "hi"},
"detail": {"field": "c"},
"fill": {"field": "c", "type": "nominal", "legend": null, "scale": {
"domain": ["Biliary-AdenoCa","Bladder-TCC","Bone-Cart","Bone-Epith","Bone-Leiomyo","Bone-Osteosarc","Breast-AdenoCa","Breast-DCIS","Breast-LobularCa","CNS-GBM","CNS-Medullo","CNS-Oligo","CNS-PiloAstro","Cervix-AdenoCa","Cervix-SCC","ColoRect-AdenoCa","Eso-AdenoCa","Head-SCC","Kidney-ChRCC","Kidney-RCC","Liver-HCC","Lung-AdenoCa","Lung-SCC","Lymph-BNHL","Lymph-CLL","Lymph-NOS","Myeloid-AML","Myeloid-MDS","Myeloid-MPN","Ovary-AdenoCa","Panc-AdenoCa","Panc-Endocrine","Prost-AdenoCa","Skin-Melanoma","Stomach-AdenoCa","Thy-AdenoCa","Uterus-AdenoCa"],
"range": ["#00CD66","#EEAD0E","#F0EE60","#ADAD00","#FFEC8B","#FFD700","#CD6090","#F275A7","#F07AA8","#3D3D3D","#B49BCD","#B0B0B0","#A0A0A0","#FFE4B5","#79CDCD","#191970","#1E90FF","#8B2323","#B32F0B","#FF4500","#006400","#F4F4F4","#F5E6C8","#698B22","#F4A35D","#EE6AC8","#CD6600","#EE7942","#FFC100","#008B8B","#7A378B","#E066FF","#87CEFA","#000000","#9FE3F5","#9370DB","#FF8C69"]}}
}
},
{
"encoding": {
"x": {"field": "c", "type": "nominal", "scale": {"type": "band", "paddingInner": 0, "paddingOuter": 0, "domain": ["Biliary-AdenoCa","Bladder-TCC","Bone-Cart","Bone-Epith","Bone-Leiomyo","Bone-Osteosarc","Breast-AdenoCa","Breast-DCIS","Breast-LobularCa","CNS-GBM","CNS-Medullo","CNS-Oligo","CNS-PiloAstro","Cervix-AdenoCa","Cervix-SCC","ColoRect-AdenoCa","Eso-AdenoCa","Head-SCC","Kidney-ChRCC","Kidney-RCC","Liver-HCC","Lung-AdenoCa","Lung-SCC","Lymph-BNHL","Lymph-CLL","Lymph-NOS","Myeloid-AML","Myeloid-MDS","Myeloid-MPN","Ovary-AdenoCa","Panc-AdenoCa","Panc-Endocrine","Prost-AdenoCa","Skin-Melanoma","Stomach-AdenoCa","Thy-AdenoCa","Uterus-AdenoCa"]}, "axis": {"title": null, "labelAngle": -90, "labelFontSize": 13, "labelColor": "#444", "tickSize": 3, "tickColor": "#999", "labelPadding": 2, "domainColor": "#999", "domainWidth": 1.5}}
},
"layer": [
{
"data": {"name": "bd"},
"mark": {"type": "circle", "size": 3, "color": "#333", "opacity": 0.9},
"encoding": {"y": {"field": "v", "type": "quantitative", "scale": {"domain": [0, 1], "nice": false}, "axis": {"values": [0, 0.5, 1], "labelExpr": "datum.value == 0.5 ? '' : datum.value == 1 ? '1' : '0'", "title": ["Detection sensitivity based", "on mean tumour coverage"], "titleFontSize": 11.5, "titleLineHeight": 12.5, "titleColor": "#444", "titlePadding": 8, "labelFontSize": 14, "labelColor": "#444", "tickSize": 4, "tickColor": "#999", "labelPadding": 2, "domainColor": "#999"}}}
},
{
"data": {"name": "cats"},
"mark": {"type": "tick", "size": 10, "thickness": 1.5, "color": "#555", "opacity": 0.85},
"encoding": {"y": {"datum": 1, "type": "quantitative"}}
},
{
"data": {"name": "cats"},
"mark": {"type": "text", "angle": -45, "fontSize": 12, "align": "center", "baseline": "middle", "dx": 8.5, "dy": -8.5, "color": "#444"},
"encoding": {"y": {"datum": 1, "type": "quantitative"}, "text": {"field": "p", "type": "quantitative"}}
}
]
},
{
"data": {"name": "thr"},
"mark": {"type": "rule", "color": "#F08C8C", "strokeWidth": 1.5},
"encoding": {"y": {"field": "t", "type": "quantitative", "scale": {"domain": [0, 1], "nice": false}, "axis": {"orient": "right", "values": [0.9], "format": ".1f", "title": null, "domain": false, "ticks": false, "labelFontSize": 9, "labelColor": "#777", "labelPadding": 3}}}
}
]
}
]
},
{
"width": 388, "height": 310,
"title": {"text": "C", "anchor": "start", "frame": "group", "dx": -38.5, "offset": -33, "baseline": "alphabetic", "fontSize": 28, "fontWeight": "normal", "color": "#111"},
"resolve": {"scale": {"y": "independent"}},
"encoding": {
"x": {"field": "v", "type": "quantitative", "scale": {"domain": [6, 10.5], "nice": false, "zero": false, "range": [108, 388]}, "axis": {"values": [6, 7, 8, 9, 10], "title": "Average SETD2 expression signal (log2)", "titleAnchor": "start", "titleFontSize": 17, "titleColor": "#222", "titlePadding": 13, "labelFontSize": 15, "labelColor": "#222", "tickSize": 5, "tickColor": "#222", "labelPadding": 3, "domainColor": "#222", "domainWidth": 1.5}}
},
"layer": [
{
"data": {"name": "cs"},
"transform": [
{"lookup": "g", "from": {"data": {"name": "grp"}, "key": "g", "fields": ["gi"]}},
{"calculate": "datum.gi - datum.h / 77.5", "as": "lo"},
{"calculate": "datum.gi + datum.h / 77.5", "as": "hi"}
],
"mark": {"type": "area", "orient": "vertical", "interpolate": "monotone"},
"encoding": {
"y": {"field": "lo", "type": "quantitative", "scale": {"domain": [-0.5, 3.5], "nice": false, "zero": false, "reverse": true}, "axis": null},
"y2": {"field": "hi"},
"detail": {"field": "g"},
"fill": {"field": "g", "type": "nominal", "legend": null, "scale": {"domain": ["Group 3", "Group 4", "SHH", "WNT"], "range": ["#C5CBE0", "#CEE0C9", "#E8C4C0", "#D6D2E8"]}}
}
},
{
"data": {"name": "cd"},
"mark": {"type": "circle", "size": 28, "opacity": 1},
"encoding": {
"y": {"field": "g", "type": "nominal", "scale": {"type": "band", "paddingInner": 0, "paddingOuter": 0, "domain": ["Group 3", "Group 4", "SHH", "WNT"]}, "axis": {"offset": -108, "title": "Medulloblastoma subgroup", "titleFontSize": 17, "titleColor": "#222", "titlePadding": 30, "labelFontSize": 15, "labelColor": "#222", "ticks": false, "labelPadding": 10, "domainColor": "#222", "domainWidth": 1.5}},
"color": {"field": "s", "type": "nominal", "scale": {"domain": ["CN loss (PCAWG)", "Frame-shift mutation (PCAWG)", "No event (PCAWG)", "Unknown (Non-PCAWG)"], "range": ["#2E3D98", "#ED1C24", "#111111", "#939393"]}, "legend": {"title": null, "orient": "none", "legendX": 411.4, "legendY": 90.5, "symbolType": "circle", "symbolSize": 85, "symbolStrokeWidth": 0, "labelFontSize": 15, "labelColor": "#222", "labelOffset": 5, "rowPadding": 9.5}}
}
}
]
}
]
}
